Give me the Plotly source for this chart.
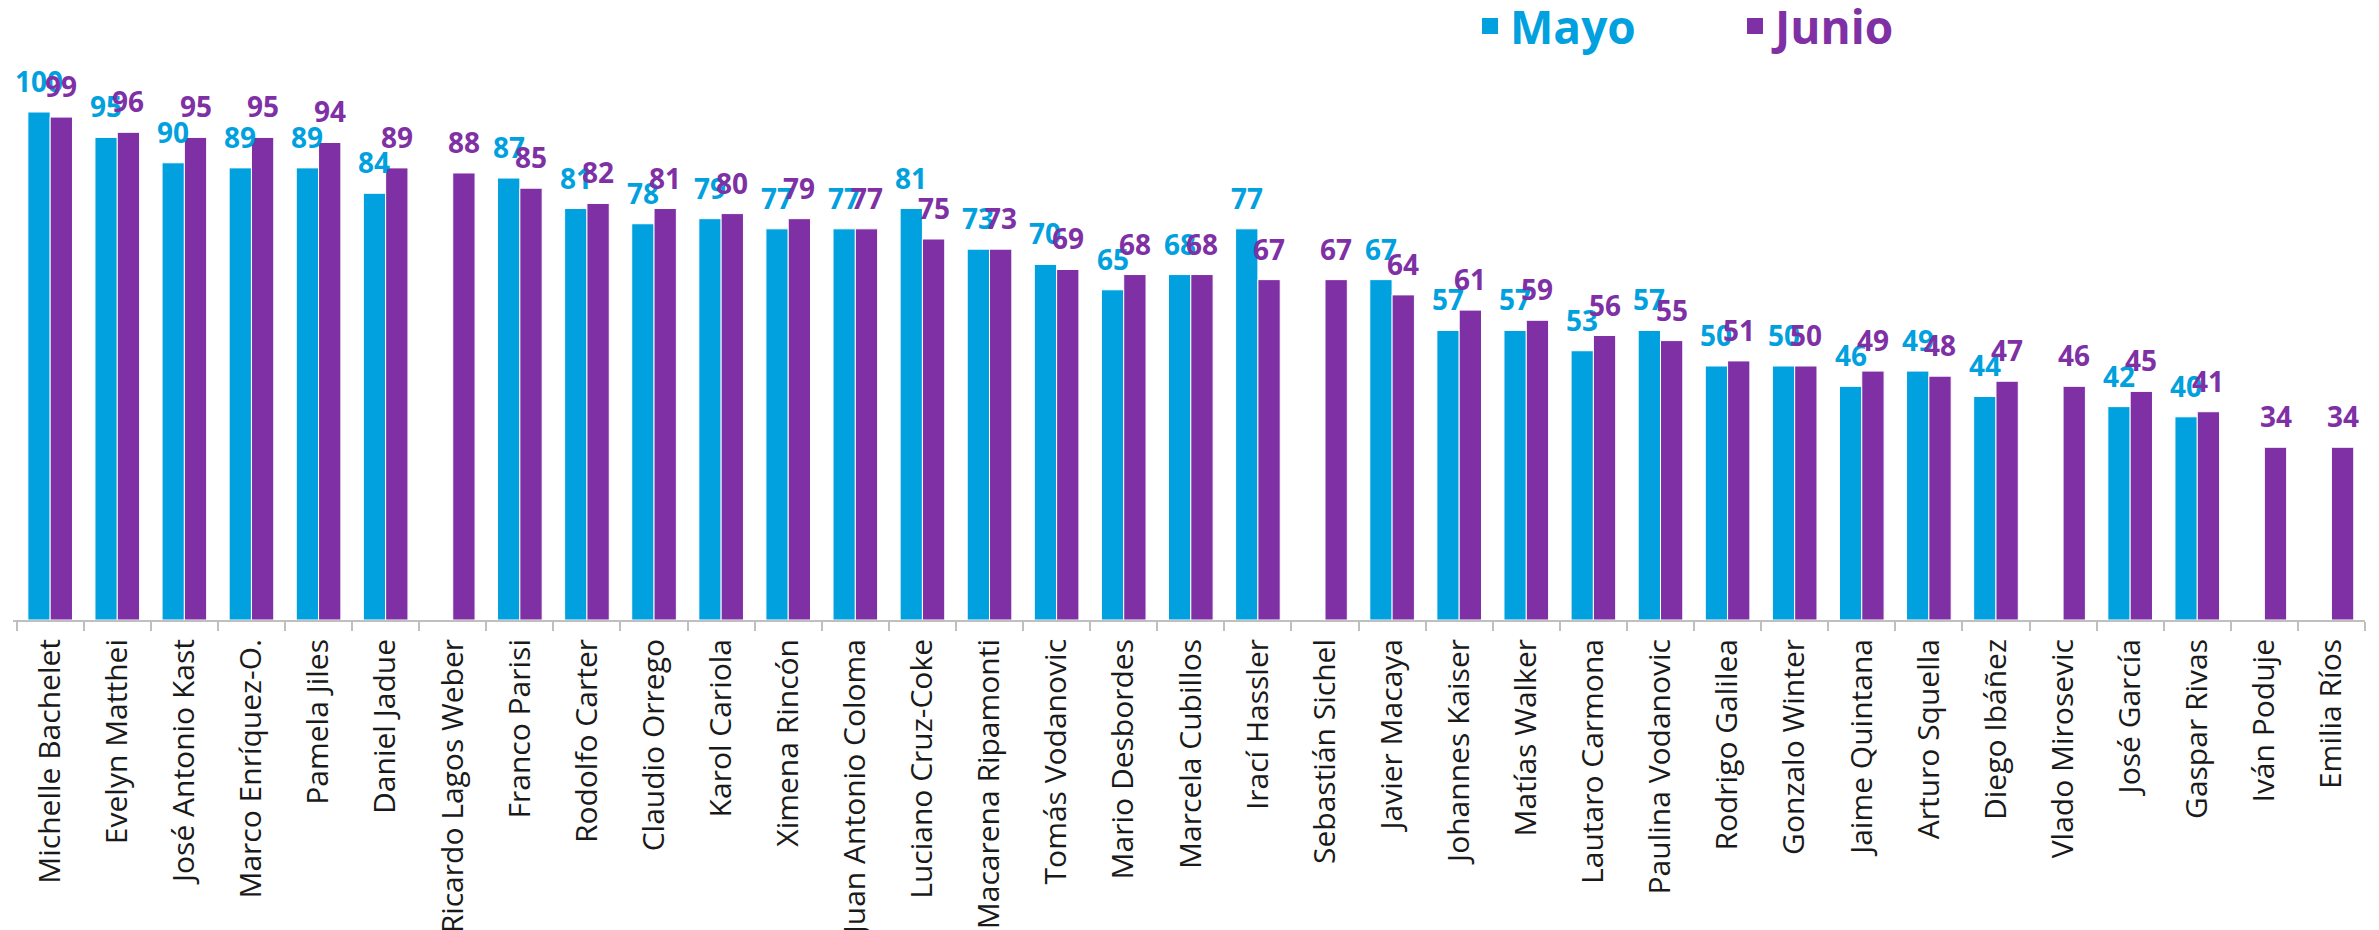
import plotly.graph_objects as go

candidatos = ["Michelle Bachelet", "Evelyn Matthei", "José Antonio Kast", "Marco Enríquez-O.",
              "Pamela Jiles", "Daniel Jadue", "Ricardo Lagos Weber", "Franco Parisi",
              "Rodolfo Carter", "Claudio Orrego", "Karol Cariola", "Ximena Rincón",
              "Juan Antonio Coloma", "Luciano Cruz-Coke", "Macarena Ripamonti", "Tomás Vodanovic",
              "Mario Desbordes", "Marcela Cubillos", "Irací Hassler", "Sebastián Sichel",
              "Javier Macaya", "Johannes Kaiser", "Matías Walker", "Lautaro Carmona",
              "Paulina Vodanovic", "Rodrigo Galilea", "Gonzalo Winter", "Jaime Quintana",
              "Arturo Squella", "Diego Ibáñez", "Vlado Mirosevic", "José García",
              "Gaspar Rivas", "Iván Poduje", "Emilia Ríos"]

mayo = [100, 95, 90, 89, 89, 84, None, 87, 81, 78, 79, 77, 77, 81, 73, 70, 65, 68, 77, None,
        67, 57, 57, 53, 57, 50, 50, 46, 49, 44, None, 42, 40, None, None]
junio = [99, 96, 95, 95, 94, 89, 88, 85, 82, 81, 80, 79, 77, 75, 73, 69, 68, 68, 67, 67,
         64, 61, 59, 56, 55, 51, 50, 49, 48, 47, 46, 45, 41, 34, 34]

series = ["Mayo", "Junio"]

C_MAYO = "#00A1DE"
C_JUNIO = "#7E30A4"

W, H = 2379, 930
# the page body adds an 8px offset; margins compensate for it
ML, MR, MT, MB = 5, 22, 0, 318
PX_PER_UNIT = 5.08
YMAX = (H - MT - MB) / PX_PER_UNIT

fig = go.Figure()
for name, vals, col in ((series[0], mayo, C_MAYO), (series[1], junio, C_JUNIO)):
    fig.add_trace(go.Bar(name=name, x=candidatos, y=vals, showlegend=False,
                         marker_color=col, marker_line=dict(color="white", width=1)))
# legend entries (larger square swatches)
for name, col in ((series[0], C_MAYO), (series[1], C_JUNIO)):
    fig.add_trace(go.Scatter(name=f"<span style='color:{col}'>{name}</span>", x=[None], y=[None],
                             mode="markers", marker=dict(symbol="square", size=16, color=col),
                             showlegend=True))

bargap = 0.335
cat_px = (W - ML - MR) / len(candidatos)
bar_px = cat_px * (1 - bargap) / 2

annotations = []
for serie, color, sign in ((mayo, C_MAYO, -1), (junio, C_JUNIO, 1)):
    for c, v in zip(candidatos, serie):
        if v is None:
            continue
        annotations.append(dict(x=c, y=v, xref="x", yref="y", text=str(v), showarrow=False,
                                xshift=sign * bar_px / 2, yshift=10, yanchor="bottom",
                                font=dict(family="Open Sans", size=28, color=color, weight="bold")))

plot_w = W - ML - MR
plot_h = H - MT - MB
legend_x = (1462 - ML) / plot_w
legend_y = (plot_h - 18) / plot_h

fig.update_layout(
    width=W, height=H,
    margin=dict(l=ML, r=MR, t=MT, b=MB, autoexpand=False),
    paper_bgcolor="white", plot_bgcolor="white",
    barmode="group", bargap=bargap, bargroupgap=0,
    annotations=annotations,
    showlegend=True,
    legend=dict(orientation="h", x=legend_x, xanchor="left", y=legend_y, yanchor="middle",
                font=dict(family="Open Sans", size=46, weight="bold"),
                itemsizing="trace", entrywidth=220, bgcolor="rgba(0,0,0,0)"),
    xaxis=dict(type="category", tickangle=-90, showline=True, linecolor="#BFBFBF", linewidth=2,
               ticks="outside", tickson="boundaries", ticklen=9, tickcolor="#BFBFBF", tickwidth=1.5,
               showgrid=False, automargin=False, ticklabelstandoff=5,
               tickfont=dict(family="Open Sans", size=30, color="#1a1a1a")),
    yaxis=dict(range=[0, YMAX], visible=False, showgrid=False, zeroline=False, automargin=False),
)

fig.write_html("out.html")
